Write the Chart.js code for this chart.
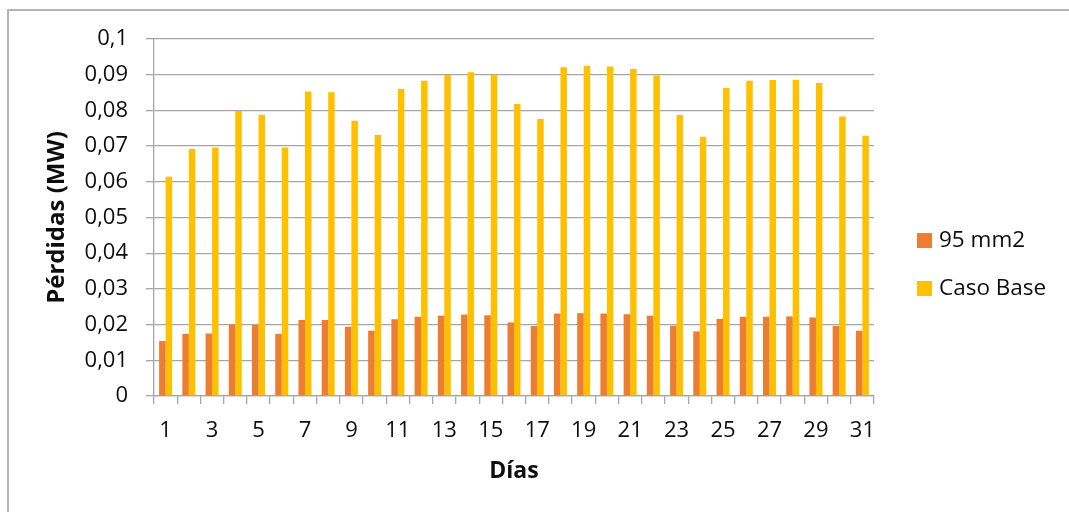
<!DOCTYPE html>
<html lang="es">
<head>
<meta charset="utf-8">
<title>Pérdidas diarias</title>
<script src="https://cdn.jsdelivr.net/npm/chart.js@4/dist/chart.umd.min.js"></script>
<style>
  html, body { margin: 0; padding: 0; background: #ffffff; }
  #wrap { position: relative; width: 1069px; height: 512px; overflow: hidden; }
  #frame {
    position: absolute; left: 7px; top: 9px; right: -4px; bottom: -4px;
    border-top: 2px solid #b4b4b4; border-left: 2px solid #b4b4b4;
  }
  #chart { position: absolute; left: 0; top: 0; }
</style>
</head>
<body>
<div id="wrap">
  <div id="frame"></div>
  <canvas id="chart" width="1069" height="512"></canvas>
</div>
<script>
// Días del mes
const dias = [1, 2, 3, 4, 5, 6, 7, 8, 9, 10, 11, 12, 13, 14, 15, 16,
              17, 18, 19, 20, 21, 22, 23, 24, 25, 26, 27, 28, 29, 30, 31];

// Pérdidas (MW) con conductor de 95 mm2
const perdidas95 = [0.0154, 0.0174, 0.0175, 0.0200, 0.0199, 0.0174, 0.0213, 0.0213,
                    0.0194, 0.0183, 0.0215, 0.0222, 0.0225, 0.0228, 0.0226, 0.0206,
                    0.0196, 0.0231, 0.0232, 0.0231, 0.0229, 0.0225, 0.0197, 0.0181,
                    0.0216, 0.0222, 0.0222, 0.0223, 0.0220, 0.0196, 0.0183];

// Pérdidas (MW) del caso base
const perdidasBase = [0.0614, 0.0692, 0.0696, 0.0798, 0.0788, 0.0696, 0.0853, 0.0851,
                      0.0771, 0.0731, 0.0860, 0.0883, 0.0900, 0.0907, 0.0900, 0.0818,
                      0.0776, 0.0921, 0.0925, 0.0923, 0.0916, 0.0898, 0.0787, 0.0726,
                      0.0863, 0.0883, 0.0885, 0.0886, 0.0877, 0.0783, 0.0729];

// Etiquetas del eje vertical (0 a 0,1 en pasos de 0,01)
const yTickLabels = ['0', '0,01', '0,02', '0,03', '0,04', '0,05',
                     '0,06', '0,07', '0,08', '0,09', '0,1'];

const seriesNames = ['95 mm2', 'Caso Base'];
const FONT = '"Open Sans", "Liberation Sans", sans-serif';
const GRID = '#a6a6a6';

// Leyenda lateral dibujada a la derecha del área del gráfico
const sideLegend = {
  id: 'sideLegend',
  afterDraw(chart) {
    const ctx = chart.ctx;
    ctx.save();
    ctx.font = '22.5px ' + FONT;
    ctx.textBaseline = 'middle';
    ctx.textAlign = 'left';
    chart.data.datasets.forEach((ds, i) => {
      const y = 233 + i * 48;
      ctx.fillStyle = ds.backgroundColor;
      ctx.fillRect(917, y, 15, 15);
      ctx.fillStyle = '#0d0d0d';
      ctx.fillText(ds.label, 939, y + 8);
    });
    ctx.restore();
  }
};

new Chart(document.getElementById('chart'), {
  type: 'bar',
  data: {
    labels: dias,
    datasets: [
      { label: seriesNames[0], data: perdidas95, backgroundColor: '#ED7D31' },
      { label: seriesNames[1], data: perdidasBase, backgroundColor: '#FFC000' }
    ]
  },
  options: {
    responsive: false,
    animation: false,
    devicePixelRatio: 1,
    layout: { padding: { left: 0, top: 39, right: 195, bottom: 0 } },
    datasets: { bar: { categoryPercentage: 0.56, barPercentage: 1.0, borderWidth: 0 } },
    plugins: {
      legend: { display: false },
      tooltip: { enabled: false }
    },
    scales: {
      x: {
        grid: {
          offset: true,
          drawOnChartArea: false,
          drawTicks: true,
          tickLength: 8,
          color: GRID,
          lineWidth: 1.3
        },
        border: { color: GRID, width: 1.3 },
        ticks: {
          autoSkip: false,
          maxRotation: 0,
          padding: 14,
          color: '#0d0d0d',
          font: { family: FONT, size: 22 },
          callback: (v, i) => (i % 2 === 0 ? String(dias[i]) : '')
        },
        title: {
          display: true,
          text: 'Días',
          color: '#0d0d0d',
          font: { family: FONT, size: 23, weight: 'bold' },
          padding: { top: 0, bottom: 27 }
        },
        afterFit: (scale) => { scale.height = 116; }
      },
      y: {
        min: 0,
        max: 0.1,
        ticks: {
          stepSize: 0.01,
          padding: 18,
          color: '#0d0d0d',
          font: { family: FONT, size: 22 },
          callback: (v, i) => yTickLabels[i]
        },
        grid: {
          color: GRID,
          lineWidth: 1.3,
          drawTicks: true,
          tickLength: 8
        },
        border: { color: GRID, width: 1.3 },
        title: {
          display: true,
          text: 'Pérdidas (MW)',
          color: '#0d0d0d',
          font: { family: FONT, size: 24, weight: 'bold' },
          padding: { top: 43, bottom: 0 }
        },
        afterFit: (scale) => { scale.width = 154; }
      }
    }
  },
  plugins: [sideLegend]
});
</script>
</body>
</html>
